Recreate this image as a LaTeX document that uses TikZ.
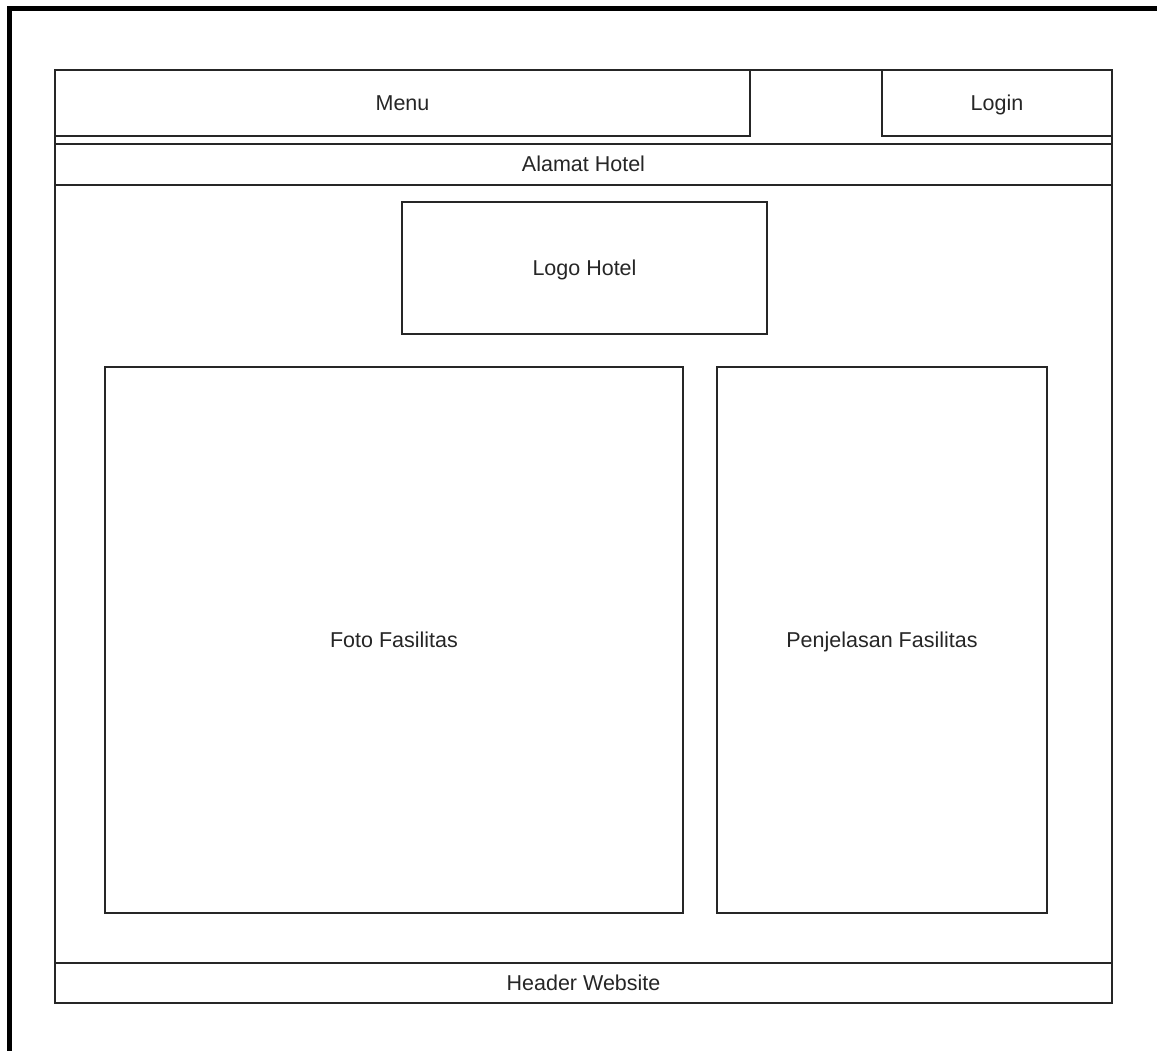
\documentclass[tikz,border=0pt]{standalone}
\usepackage{fontspec}
\setmainfont{Liberation Sans}
\begin{document}
\begin{tikzpicture}[x=1pt,y=-1pt,
  box/.style={draw=black!85,line width=1.5pt,rectangle,inner sep=0pt,outer sep=0pt,
    font=\fontsize{21.5}{24}\selectfont,text=black!85,
    text height=15.5pt,text depth=1.5pt},
  frame/.style={draw=black,line width=5pt}]
  \useasboundingbox (0,0) rectangle (1157,1050);
  \fill[white] (0,0) rectangle (1157,1050);
  % page frame running off the sheet
  \begin{scope}
    \clip (0,0) rectangle (1157,1050);
    \draw[frame] (9.5,8.5) rectangle (1250,1150);
  \end{scope}
  % page container
  \node[box,minimum width=1057pt,minimum height=933pt] (page) at (583.5,536.5) {};
  % top bar
  \node[box,minimum width=695pt,minimum height=66pt] (menu) at (402.5,103) {Menu};
  \node[box,minimum width=230pt,minimum height=66pt] (login) at (997,103) {Login};
  % address band
  \node[box,minimum width=1057pt,minimum height=41pt] (alamat) at (583.5,164.5) {Alamat Hotel};
  % logo
  \node[box,minimum width=365pt,minimum height=132pt] (logo) at (584.5,268) {Logo Hotel};
  % content blocks
  \node[box,minimum width=578pt,minimum height=546pt] (foto) at (394,640) {Foto Fasilitas};
  \node[box,minimum width=330pt,minimum height=546pt] (penjelasan) at (882,640) {Penjelasan Fasilitas};
  % bottom band
  \node[box,minimum width=1057pt,minimum height=40pt] (header) at (583.5,983) {Header Website};
\end{tikzpicture}
\end{document}
